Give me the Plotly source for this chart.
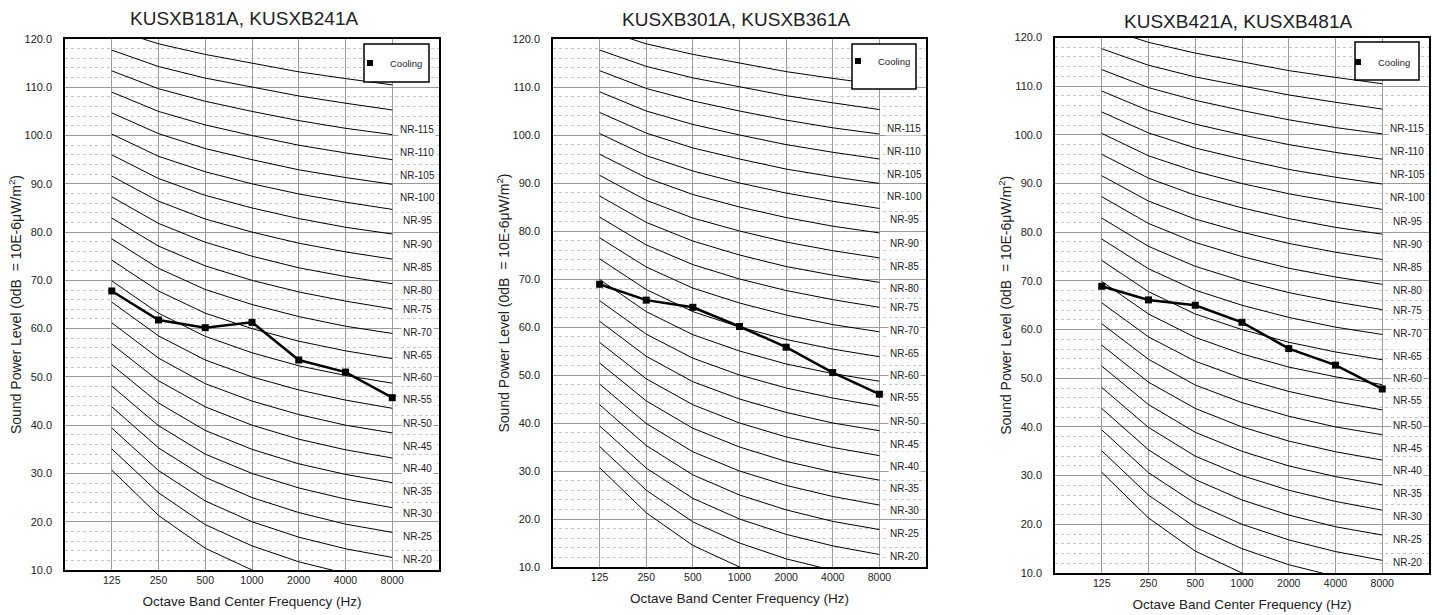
import plotly.graph_objects as go

W, H = 1437, 615

# ---------------- data ----------------
freqs = ["125", "250", "500", "1000", "2000", "4000", "8000"]

nr_levels = [10, 15, 20, 25, 30, 35, 40, 45, 50, 55, 60, 65, 70, 75, 80, 85, 90, 95, 100, 105, 110, 115]
nr_curves = [
    [30.7, 21.3, 14.5, 10.0, 6.7, 4.2, 2.3],
    [35.1, 26.0, 19.4, 15.0, 11.7, 9.3, 7.5],
    [39.4, 30.6, 24.3, 20.0, 16.8, 14.4, 12.6],
    [43.8, 35.3, 29.2, 25.0, 21.9, 19.5, 17.8],
    [48.1, 39.9, 34.0, 30.0, 27.0, 24.7, 22.9],
    [52.5, 44.6, 38.9, 35.0, 32.0, 29.8, 28.1],
    [56.8, 49.2, 43.8, 40.0, 37.1, 34.9, 33.2],
    [61.2, 53.9, 48.6, 45.0, 42.2, 40.0, 38.4],
    [65.5, 58.5, 53.5, 50.0, 47.3, 45.2, 43.5],
    [69.9, 63.2, 58.4, 55.0, 52.3, 50.3, 48.7],
    [74.2, 67.8, 63.2, 60.0, 57.4, 55.4, 53.8],
    [78.6, 72.5, 68.1, 65.0, 62.5, 60.5, 59.0],
    [82.9, 77.1, 73.0, 70.0, 67.6, 65.7, 64.1],
    [87.3, 81.8, 77.9, 75.0, 72.6, 70.8, 69.3],
    [91.6, 86.4, 82.7, 80.0, 77.7, 75.9, 74.4],
    [96.0, 91.1, 87.6, 85.0, 82.8, 81.0, 79.6],
    [100.3, 95.7, 92.5, 90.0, 87.9, 86.2, 84.7],
    [104.7, 100.4, 97.3, 95.0, 92.9, 91.3, 89.9],
    [109.0, 105.0, 102.2, 100.0, 98.0, 96.4, 95.0],
    [113.4, 109.7, 107.1, 105.0, 103.1, 101.5, 100.2],
    [117.7, 114.3, 111.9, 110.0, 108.2, 106.7, 105.3],
    [122.1, 119.0, 116.8, 115.0, 113.2, 111.8, 110.5],
]

nr_label_names = ["NR-115", "NR-110", "NR-105", "NR-100", "NR-95", "NR-90", "NR-85",
                  "NR-80", "NR-75", "NR-70", "NR-65", "NR-60", "NR-55", "NR-50",
                  "NR-45", "NR-40", "NR-35", "NR-30", "NR-25", "NR-20"]
nr_label_y = [101.3, 96.5, 91.8, 87.2, 82.3, 77.5, 72.7, 68.0, 64.0, 59.2,
              54.5, 49.9, 45.4, 40.3, 35.6, 31.0, 26.3, 21.7, 16.9, 12.2]

titles = ["KUSXB181A, KUSXB241A", "KUSXB301A, KUSXB361A", "KUSXB421A, KUSXB481A"]
series_name = "Cooling"
cooling = [
    [67.8, 61.8, 60.2, 61.3, 53.5, 51.0, 45.7],
    [68.9, 65.6, 64.1, 60.1, 55.8, 50.5, 46.0],
    [68.9, 66.1, 65.0, 61.5, 56.1, 52.7, 47.8],
]

y_title = "Sound Power Level (0dB  = 10E-6μW/m<sup>2</sup>)"
x_title = "Octave Band Center Frequency (Hz)"

# ---------------- layout geometry (pixels) ----------------
boxes = [(65, 439, 39, 570), (553, 926, 39, 567), (1055, 1429, 37.5, 573)]
title_px = [(244, 18), (736, 20), (1238, 21)]
legend_boxes = [(364, 429, 44, 82), (852, 916, 44, 89), (1355, 1419, 42, 80)]
legend_marker = [(371, 63), (859, 61), (1359, 62)]

FONT = "Arial, 'Liberation Sans', sans-serif"


def px_x(v):
    return v / W


def px_y(v):
    return 1 - v / H


fig = go.Figure()
layout = dict(
    width=W, height=H,
    margin=dict(l=0, r=0, t=0, b=0),
    paper_bgcolor="white", plot_bgcolor="white",
    font=dict(family=FONT, color="#222"),
    showlegend=True,
    annotations=[], shapes=[],
)

for i in range(3):
    n = i + 1
    xa = "x" if n == 1 else f"x{n}"
    ya = "y" if n == 1 else f"y{n}"
    leg = "legend" if n == 1 else f"legend{n}"
    x0, x1, yt, yb = boxes[i]

    for lvl, vals in zip(nr_levels, nr_curves):
        fig.add_trace(go.Scatter(
            x=freqs, y=vals, mode="lines", name=f"NR-{lvl}",
            line=dict(color="black", width=1), showlegend=False,
            xaxis=xa, yaxis=ya, hoverinfo="skip"))

    fig.add_trace(go.Scatter(
        x=freqs, y=cooling[i], mode="lines+markers", name=series_name,
        line=dict(color="black", width=2.5),
        marker=dict(symbol="square", size=7, color="black"),
        showlegend=False, xaxis=xa, yaxis=ya))
    # legend entry (marker only, as in the reference legend)
    fig.add_trace(go.Scatter(
        x=[None], y=[None], mode="markers", name=series_name,
        marker=dict(symbol="square", size=6, color="black"),
        showlegend=True, legend=leg, xaxis=xa, yaxis=ya))

    layout[f"xaxis{'' if n == 1 else n}"] = dict(
        domain=[px_x(x0), px_x(x1)], anchor=ya,
        type="category", categoryorder="array", categoryarray=freqs,
        range=[-1, 7], showgrid=True, gridcolor="#9a9a9a", gridwidth=1,
        showline=True, mirror=True, linecolor="black", linewidth=1.5,
        ticks="", tickfont=dict(size=10.5, color="#222"),
        title=dict(text=x_title, font=dict(size=13.5, color="#222"), standoff=11),
        zeroline=False, automargin=False, fixedrange=True)
    layout[f"yaxis{'' if n == 1 else n}"] = dict(
        domain=[px_y(yb), px_y(yt)], anchor=xa,
        range=[10, 120], tick0=0, dtick=10, tickformat=".1f",
        showgrid=True, gridcolor="#9a9a9a", gridwidth=1,
        minor=dict(dtick=2, tick0=0, showgrid=True, gridcolor="#c4c4c4",
                   griddash="3px,3px", gridwidth=1),
        showline=True, mirror=True, linecolor="black", linewidth=1.5,
        ticks="", ticklabelstandoff=9, tickfont=dict(size=11, color="#222"),
        title=dict(text=y_title, font=dict(size=14, color="#222"), standoff=0),
        zeroline=False, automargin=False, fixedrange=True)

    # legend box + legend
    lx0, lx1, ly0, ly1 = legend_boxes[i]
    layout["shapes"].append(dict(
        type="rect", xref="paper", yref="paper",
        x0=px_x(lx0), x1=px_x(lx1), y0=px_y(ly1), y1=px_y(ly0),
        fillcolor="white", line=dict(color="black", width=1.5), layer="above"))
    mx, my = legend_marker[i]
    layout[leg] = dict(
        x=px_x(mx - 21), y=px_y(my), xanchor="left", yanchor="middle",
        bgcolor="rgba(0,0,0,0)", borderwidth=0,
        font=dict(size=9.5, color="#222"), itemwidth=30)

    # subplot title
    tx, ty = title_px[i]
    layout["annotations"].append(dict(
        text=titles[i], xref="paper", yref="paper", x=px_x(tx), y=px_y(ty),
        xanchor="center", yanchor="middle", showarrow=False,
        font=dict(size=19, color="#222")))

    # NR labels
    for name, yv in zip(nr_label_names, nr_label_y):
        layout["annotations"].append(dict(
            text=name, xref=xa, yref=ya, x=6.53, y=yv,
            xanchor="center", yanchor="middle", showarrow=False,
            bgcolor="white", borderpad=1,
            font=dict(size=10, color="#222")))

fig.update_layout(**layout)
fig.write_html("out.html",
               config={"displayModeBar": False},
               post_script="document.body.style.margin='0';document.body.style.padding='0';")
